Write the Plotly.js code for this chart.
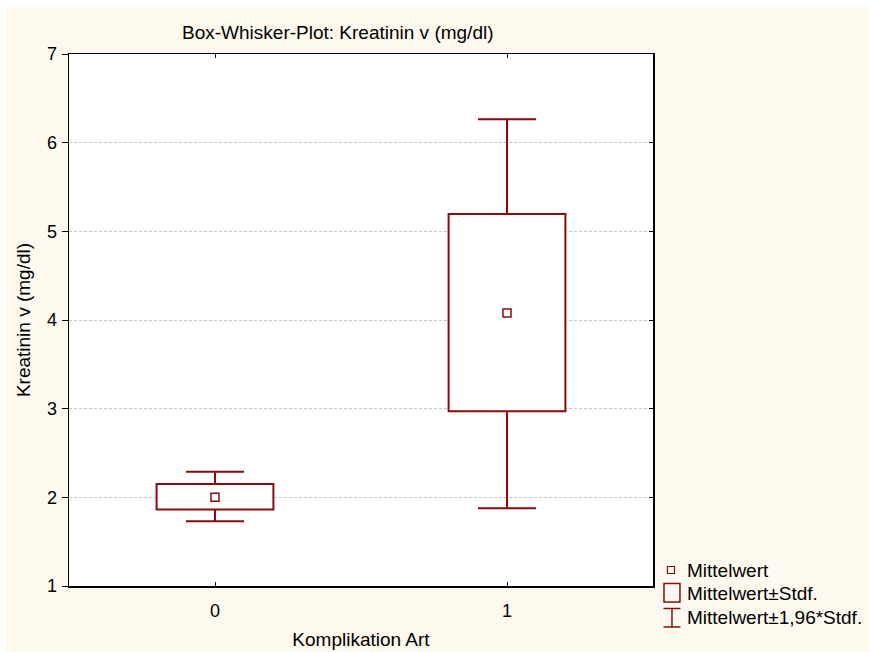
<!DOCTYPE html>
<html>
<head>
<meta charset="utf-8">
<script src="https://cdn.plot.ly/plotly-3.0.1.min.js"></script>
<style>
  html, body { margin: 0; padding: 0; background: #ffffff; }
  #chart { position: absolute; left: 6px; top: 7px; width: 863px; height: 645px; }
</style>
</head>
<body>
<div id="chart"></div>
<script>
// ---- data ----
const categories = [0, 1];
const categoryLabels = ['0', '1'];
const means = [2.0, 4.08];
const sdLow = [1.862, 2.97];     // Mittelwert - Stdf.
const sdHigh = [2.151, 5.196];   // Mittelwert + Stdf.
const ciLow = [1.73, 1.876];     // Mittelwert - 1,96*Stdf.
const ciHigh = [2.289, 6.263];   // Mittelwert + 1,96*Stdf.
const yTicks = [1, 2, 3, 4, 5, 6, 7];
const legendLabels = ['Mittelwert', 'Mittelwert\u00b1Stdf.', 'Mittelwert\u00b11,96*Stdf.'];

// ---- styling ----
const RED = '#8b0a0a';
const BG = '#fdf9ee';
const FONT = 'Liberation Sans, Arial, sans-serif';
const FS = 19;

// plot area in container px (container is offset 6,7 in page)
const PL = 63, PT = 47, PW = 584.5, PH = 532;
function px2paperX(px) { return (px - 6 - PL) / PW; }
function px2paperY(py) { return 1 - (py - 7 - PT) / PH; }

const boxHeights = sdHigh.map((h, i) => h - sdLow[i]);
const whiskerUp = ciHigh.map((h, i) => h - means[i]);
const whiskerDown = means.map((m, i) => m - ciLow[i]);

const traces = [
  // whiskers: Mittelwert ± 1,96*Stdf. (bottom layer, main subplot)
  {
    type: 'scatter',
    mode: 'markers',
    x: categories,
    y: means,
    marker: { size: 1, color: 'rgba(0,0,0,0)' },
    error_y: { type: 'data', symmetric: false, array: whiskerUp, arrayminus: whiskerDown,
               color: RED, thickness: 2, width: 29 },
    hoverinfo: 'skip',
    showlegend: false
  },
  // Mittelwert ± Stdf. boxes (overlay subplot, drawn above whiskers)
  {
    type: 'bar',
    x: categories,
    base: sdLow,
    y: boxHeights,
    width: 0.4,
    xaxis: 'x2',
    yaxis: 'y2',
    marker: { color: '#ffffff', line: { color: RED, width: 2 } },
    hoverinfo: 'skip',
    showlegend: false
  },
  // Mittelwert
  {
    type: 'scatter',
    mode: 'markers',
    x: categories,
    y: means,
    xaxis: 'x2',
    yaxis: 'y2',
    marker: { symbol: 'square-open', size: 8, color: RED, line: { width: 1.5, color: RED } },
    hoverinfo: 'skip',
    showlegend: false
  }
];

// legend drawn with shapes + annotations
const legX = 671.5;
const legRows = [570, 593, 617];
const shapes = [
  { type: 'rect', xref: 'paper', yref: 'paper',
    x0: px2paperX(legX - 3.5), x1: px2paperX(legX + 3.5),
    y0: px2paperY(legRows[0] + 3.5), y1: px2paperY(legRows[0] - 3.5),
    line: { color: RED, width: 1.2 }, fillcolor: 'rgba(0,0,0,0)' },
  { type: 'rect', xref: 'paper', yref: 'paper',
    x0: px2paperX(664.5), x1: px2paperX(680.5),
    y0: px2paperY(602), y1: px2paperY(583.5),
    line: { color: RED, width: 1.5 }, fillcolor: 'rgba(0,0,0,0)' },
  { type: 'line', xref: 'paper', yref: 'paper',
    x0: px2paperX(664), x1: px2paperX(681), y0: px2paperY(608.5), y1: px2paperY(608.5),
    line: { color: RED, width: 1.5 } },
  { type: 'line', xref: 'paper', yref: 'paper',
    x0: px2paperX(664), x1: px2paperX(681), y0: px2paperY(627), y1: px2paperY(627),
    line: { color: RED, width: 1.5 } },
  { type: 'line', xref: 'paper', yref: 'paper',
    x0: px2paperX(672.5), x1: px2paperX(672.5), y0: px2paperY(608.5), y1: px2paperY(627),
    line: { color: RED, width: 1.5 } }
];

const annotations = legendLabels.map((t, i) => ({
  text: t, xref: 'paper', yref: 'paper',
  x: px2paperX(686), y: px2paperY(legRows[i]),
  xanchor: 'left', yanchor: 'middle', showarrow: false,
  font: { family: FONT, size: FS, color: '#000000' }
}));

const layout = {
  width: 863,
  height: 645,
  margin: { l: PL, t: PT, r: 863 - PL - PW, b: 645 - PT - PH, pad: 0 },
  paper_bgcolor: BG,
  plot_bgcolor: '#ffffff',
  showlegend: false,
  barmode: 'overlay',
  font: { family: FONT, size: FS, color: '#000000' },
  title: {
    text: 'Box-Whisker-Plot: Kreatinin v (mg/dl)',
    xref: 'paper', x: px2paperX(338), xanchor: 'center',
    yref: 'container', y: 1 - (32 - 7) / 645, yanchor: 'middle',
    font: { family: FONT, size: FS, color: '#000000' }
  },
  xaxis: {
    range: [-0.5, 1.5],
    tickmode: 'array',
    tickvals: categories,
    ticktext: categoryLabels,
    ticks: 'inside',
    ticklen: 4,
    tickwidth: 1,
    tickcolor: '#000000',
    ticklabelstandoff: 8,
    tickfont: { size: 18 },
    showline: true,
    linecolor: '#000000',
    linewidth: 1.5,
    mirror: true,
    showgrid: false,
    zeroline: false,
    title: { text: 'Komplikation Art', standoff: 12, font: { family: FONT, size: FS } }
  },
  yaxis: {
    range: [1, 7],
    tickmode: 'array',
    tickvals: yTicks,
    ticks: 'outside',
    ticklen: 6,
    tickwidth: 1,
    tickcolor: '#000000',
    ticklabelstandoff: 1,
    tickfont: { size: 18 },
    showline: true,
    linecolor: '#000000',
    linewidth: 1.5,
    mirror: true,
    showgrid: true,
    gridcolor: '#c4c4c4',
    gridwidth: 1,
    griddash: '3px,2px',
    zeroline: false,
    title: { text: 'Kreatinin v (mg/dl)', standoff: 11, font: { family: FONT, size: FS } }
  },
  xaxis2: {
    overlaying: 'x', side: 'top', anchor: 'y2',
    range: [-0.5, 1.5], tickmode: 'array', tickvals: categories,
    ticks: 'inside', ticklen: 4, tickcolor: '#000000',
    showticklabels: false, showline: false, showgrid: false, zeroline: false
  },
  yaxis2: {
    overlaying: 'y', side: 'right', anchor: 'x2',
    range: [1, 7], tickmode: 'array', tickvals: yTicks,
    ticks: 'inside', ticklen: 4, tickcolor: '#000000',
    showticklabels: false, showline: false, showgrid: false, zeroline: false
  },
  shapes: shapes,
  annotations: annotations
};

Plotly.newPlot('chart', traces, layout, { staticPlot: true, displayModeBar: false });
</script>
</body>
</html>
